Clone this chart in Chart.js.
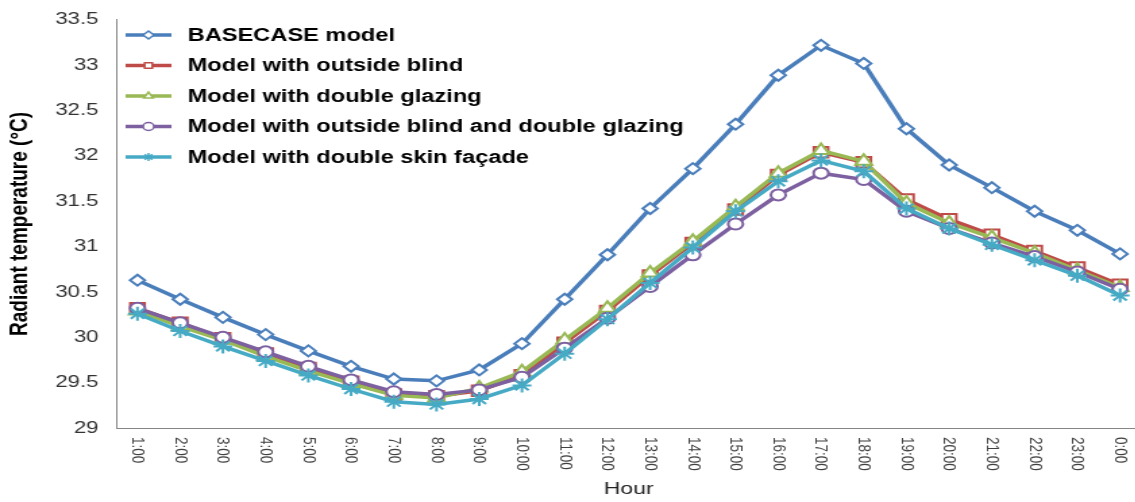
<!DOCTYPE html>
<html>
<head>
<meta charset="utf-8">
<script src="https://cdn.jsdelivr.net/npm/chart.js@4.4.1/dist/chart.umd.min.js"></script>
<style>
  html, body { margin: 0; padding: 0; background: #fff; overflow: hidden; }
  /* the reference picture is stretched sideways, so the whole chart is too */
  #wrap { position: relative; top: -3px; width: 855px; height: 505px; transform: scaleX(1.35); transform-origin: 0 0; }
</style>
</head>
<body>
<div id="wrap"><canvas id="myChart"></canvas></div>
<script>
const hours = ["1:00", "2:00", "3:00", "4:00", "5:00", "6:00", "7:00", "8:00", "9:00", "10:00", "11:00", "12:00",
  "13:00", "14:00", "15:00", "16:00", "17:00", "18:00", "19:00", "20:00", "21:00", "22:00", "23:00", "0:00"];

const seriesNames = ["BASECASE model", "Model with outside blind", "Model with double glazing",
  "Model with outside blind and double glazing", "Model with double skin façade"];

const basecase = [30.63, 30.42, 30.22, 30.03, 29.85, 29.68, 29.54, 29.52, 29.64, 29.93, 30.42, 30.91,
  31.42, 31.86, 32.35, 32.89, 33.22, 33.02, 32.30, 31.90, 31.65, 31.39, 31.18, 30.92];
const outsideBlind = [30.32, 30.16, 29.99, 29.82, 29.66, 29.51, 29.37, 29.35, 29.41, 29.58, 29.94, 30.29,
  30.68, 31.04, 31.41, 31.79, 32.04, 31.93, 31.52, 31.30, 31.13, 30.95, 30.77, 30.58];
const doubleGlazing = [30.29, 30.12, 29.97, 29.79, 29.63, 29.49, 29.36, 29.33, 29.44, 29.62, 29.97, 30.32,
  30.71, 31.06, 31.44, 31.81, 32.06, 31.94, 31.48, 31.26, 31.10, 30.93, 30.74, 30.55];
const blindAndDouble = [30.32, 30.16, 30.00, 29.84, 29.68, 29.53, 29.40, 29.37, 29.42, 29.56, 29.88, 30.21,
  30.56, 30.91, 31.25, 31.57, 31.81, 31.74, 31.39, 31.20, 31.04, 30.89, 30.72, 30.53];
const doubleSkin = [30.26, 30.07, 29.90, 29.74, 29.58, 29.43, 29.29, 29.26, 29.32, 29.47, 29.82, 30.20,
  30.60, 30.99, 31.39, 31.72, 31.95, 31.83, 31.42, 31.20, 31.02, 30.85, 30.68, 30.46];

const colors = ["#4A7EBB", "#BE4B48", "#98B954", "#7D60A0", "#46AAC5"];
const markers = ["rectRot", "rect", "triangle", "circle", "star"];
const markerSize = [5.5, 7.5, 7, 5.5, 7];

const allSeries = [basecase, outsideBlind, doubleGlazing, blindAndDouble, doubleSkin];

const datasets = allSeries.map((vals, i) => ({
  label: seriesNames[i],
  data: vals,
  borderColor: colors[i],
  backgroundColor: "#ffffff",
  borderWidth: 3.5,
  pointStyle: markers[i],
  pointRadius: markerSize[i],
  pointBorderWidth: 2,
  pointBorderColor: colors[i],
  pointBackgroundColor: "#ffffff",
  tension: 0,
  order: 5 - i,
}));

// legend drawn inside the plot, top left, one row per series
const legendInside = {
  id: "legendInside",
  afterDraw(chart) {
    const ctx = chart.ctx;
    ctx.save();
    chart.data.datasets.forEach((ds, i) => {
      let y = 38 + i * 30.5;
      ctx.strokeStyle = ds.borderColor;
      ctx.lineWidth = 3.5;
      ctx.beginPath();
      ctx.moveTo(93, y);
      ctx.lineTo(127, y);
      ctx.stroke();
      ctx.fillStyle = "#ffffff";
      ctx.lineWidth = 1.5;
      Chart.helpers.drawPoint(ctx, { pointStyle: ds.pointStyle, radius: 4, borderWidth: 1.5, rotation: 0 }, 110, y);
      ctx.fillStyle = "#000000";
      ctx.font = "bold 17.5px 'Liberation Sans', Arial, sans-serif";
      ctx.textBaseline = "middle";
      ctx.textAlign = "left";
      ctx.fillText(ds.label, 139, y + 1);
    });

    // hour labels, turned clockwise
    const xScale = chart.scales.x;
    ctx.fillStyle = "#404040";
    ctx.font = "13.5px 'Liberation Sans', Arial, sans-serif";
    ctx.textBaseline = "middle";
    ctx.textAlign = "left";
    hours.forEach((h, i) => {
      const x = xScale.getPixelForTick(i);
      ctx.save();
      ctx.translate(x, 440);
      ctx.rotate(Math.PI / 2);
      ctx.fillText(h, 0, 0);
      ctx.restore();
    });
    ctx.restore();
  },
};

new Chart("myChart", {
  type: "line",
  data: { labels: hours, datasets: datasets },
  options: {
    responsive: true,
    maintainAspectRatio: false,
    animation: false,
    layout: { padding: { top: 8, right: 1, left: 0, bottom: 0 } },
    plugins: {
      legend: { display: false },
      tooltip: { enabled: false },
    },
    scales: {
      x: {
        offset: true,
        grid: { display: false, drawTicks: false },
        border: { display: true, color: "#868686", width: 1 },
        ticks: { display: false },
        title: {
          display: true,
          text: "Hour",
          color: "#222222",
          font: { family: "'Liberation Sans', Arial, sans-serif", size: 17 },
          padding: { top: 0, bottom: 2 },
        },
        afterFit: (scale) => { scale.height = 74; },
      },
      y: {
        min: 29,
        max: 33.5,
        grid: { display: false, drawTicks: false },
        border: { display: true, color: "#868686", width: 1 },
        ticks: {
          stepSize: 0.5,
          padding: 13,
          color: "#333333",
          font: { family: "'Liberation Sans', Arial, sans-serif", size: 16.5 },
          callback: (v) => String(Math.round(v * 10) / 10),
        },
        title: {
          display: true,
          text: "Radiant temperature (°C)",
          color: "#000000",
          font: { family: "'Liberation Sans', Arial, sans-serif", size: 19, weight: "bold" },
          padding: { top: 3, bottom: 0 },
        },
        afterFit: (scale) => { scale.width = 86; },
      },
    },
  },
  plugins: [legendInside],
});
</script>
</body>
</html>
